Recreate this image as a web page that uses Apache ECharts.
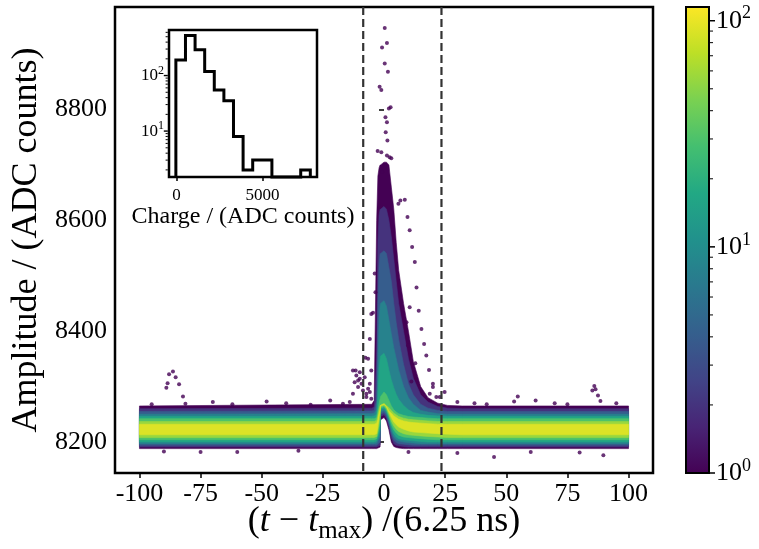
<!DOCTYPE html>
<html><head><meta charset="utf-8">
<script src="https://cdn.jsdelivr.net/npm/echarts@6/dist/echarts.min.js"></script>
<style>html,body{margin:0;padding:0;background:#fff}#c{width:759px;height:549px}</style>
</head><body><div id="c"></div>
<script>
// ================= DATA =================
const xTicks = [-100, -75, -50, -25, 0, 25, 50, 75, 100];
const yTicks = [8200, 8400, 8600, 8800];
const windowLines = [-8.5, 23.5];

// density envelopes (ADC counts) at sample positions, one pair per count level
const bandX = [-100, -5, -4, -3, -2.5, -2, -1.6, -1.4, 0, 1, 2, 3, 4, 5, 6, 8, 10, 12, 15, 18, 22, 26, 32, 100];
const levelCounts = [1, 2, 4, 8, 16, 30, 55, 90];
const bandHi1 = [8265, 8268, 8275, 8600, 8680, 8695, 8700, 8700, 8705, 8705, 8700, 8660, 8620, 8560, 8510, 8450, 8400, 8345, 8300, 8280, 8270, 8266, 8265, 8265];
const bandLo1 = [8188, 8188, 8188, 8188, 8189, 8190, 8191, 8240, 8244, 8238, 8222, 8200, 8192, 8190, 8189, 8188, 8188, 8188, 8188, 8188, 8188, 8188, 8188, 8188];
const bandHi2 = [8260, 8261, 8263, 8350, 8560, 8610, 8620, 8620, 8625, 8620, 8600, 8570, 8530, 8490, 8450, 8400, 8350, 8315, 8285, 8272, 8264, 8261, 8260, 8260];
const bandLo2 = [8191, 8191, 8191, 8191, 8192, 8193, 8194, 8246, 8249, 8243, 8228, 8207, 8197, 8194, 8193, 8192, 8191, 8191, 8191, 8191, 8191, 8191, 8191, 8191];
const bandHi3 = [8255, 8256, 8257, 8275, 8450, 8520, 8540, 8540, 8545, 8540, 8515, 8490, 8450, 8415, 8385, 8340, 8305, 8285, 8268, 8261, 8257, 8255, 8255, 8255];
const bandLo3 = [8194, 8194, 8194, 8194, 8196, 8198, 8200, 8250, 8253, 8247, 8233, 8214, 8203, 8199, 8197, 8196, 8195, 8194, 8194, 8194, 8194, 8194, 8194, 8194];
const bandHi4 = [8250, 8251, 8252, 8258, 8330, 8420, 8445, 8450, 8455, 8445, 8420, 8395, 8370, 8350, 8330, 8300, 8280, 8268, 8257, 8254, 8251, 8250, 8250, 8250];
const bandLo4 = [8197, 8197, 8197, 8198, 8202, 8206, 8210, 8254, 8257, 8251, 8238, 8220, 8209, 8204, 8202, 8200, 8199, 8198, 8197, 8197, 8197, 8197, 8197, 8197];
const bandHi5 = [8246, 8246, 8247, 8250, 8280, 8330, 8350, 8355, 8360, 8350, 8330, 8312, 8298, 8286, 8277, 8266, 8258, 8253, 8250, 8248, 8247, 8246, 8246, 8246];
const bandLo5 = [8200, 8200, 8200, 8202, 8208, 8215, 8222, 8258, 8261, 8255, 8242, 8226, 8215, 8209, 8206, 8204, 8203, 8202, 8201, 8200, 8200, 8200, 8200, 8200];
const bandHi6 = [8242, 8242, 8242, 8244, 8256, 8270, 8278, 8282, 8290, 8285, 8275, 8265, 8258, 8254, 8251, 8248, 8246, 8245, 8244, 8243, 8242, 8242, 8242, 8242];
const bandLo6 = [8204, 8204, 8204, 8206, 8214, 8226, 8236, 8261, 8264, 8258, 8246, 8232, 8222, 8216, 8212, 8209, 8208, 8207, 8206, 8205, 8204, 8204, 8204, 8204];
const bandHi7 = [8237, 8237, 8237, 8239, 8248, 8260, 8266, 8266, 8270, 8266, 8262, 8257, 8252, 8249, 8246, 8243, 8241, 8240, 8239, 8238, 8237, 8237, 8237, 8237];
const bandLo7 = [8208, 8208, 8208, 8210, 8220, 8236, 8248, 8264, 8266, 8261, 8250, 8238, 8229, 8223, 8219, 8215, 8213, 8212, 8211, 8210, 8209, 8208, 8208, 8208];
const bandHi8 = [8232, 8232, 8232, 8234, 8240, 8252, 8258, 8266, 8268, 8264, 8256, 8252, 8247, 8244, 8241, 8238, 8236, 8235, 8234, 8233, 8232, 8232, 8232, 8232];
const bandLo8 = [8213, 8213, 8213, 8215, 8228, 8246, 8256, 8266, 8268, 8264, 8254, 8244, 8236, 8231, 8227, 8223, 8220, 8218, 8217, 8216, 8215, 8214, 8213, 8213];

// isolated single-count samples
const outlierT = [0.3, 1.2, -0.8, 0.3, 1.6, -1.8, -1.1, 2.7, 2.0, 0.6, 1.2, 0.7, 1.4, -2.6, -1.1, 1.2, 2.3, 3.0, -0.7,
  6.7, 8.5, 5.9, 9.6, 10.5, 11.5, 12.6, 13.3, 14.2, 15.3, 16.4, 17.3, 18.4, 20, 22.8, 9.2, 10.5, 9.8, 12.8, 11.2, 20, 21.4, 18.7, 24.8,
  -3.8, -3.5, -4.5, -5.2, -5.8, -7.6, -6.5, -5.2,
  -12.7, -11.3, -9.9, -12, -9.2, -7.9, -10.6, -8.6, -6.5, -7.2, -5.2, -12.7, -14, -5.8, -16.8, -10.6, -11.6, -9.9, -7.2, -5.8,
  -89, -87.9, -86.3, -85.2, -83.8, -82.2, -81.2, -88.5,
  86, 86.5, 87.5, 88.5, 85.2,
  54.7, 53.2, 69.8, 37, -95, -70, -62, -48, -40, -30, -22, 30, 42, 62, 75, 95,
  89.7, 45, -90, -60, -35, 60, 80, 30, -75, 10];
const outlierA = [8947, 8920, 8912, 8883, 8868, 8841, 8835, 8804, 8802, 8786, 8777, 8759, 8744, 8725, 8723, 8717, 8714, 8712, 8687,
  8636, 8637, 8630, 8606, 8582, 8552, 8525, 8479, 8437, 8404, 8377, 8356, 8330, 8305, 8281, 8416, 8443, 8374, 8342, 8309, 8299, 8281, 8287, 8290,
  8504, 8470, 8433, 8431, 8386, 8352, 8350, 8329,
  8329, 8320, 8314, 8308, 8305, 8317, 8299, 8293, 8296, 8281, 8278, 8287, 8272, 8305, 8269, 8311, 8329, 8326, 8287, 8290,
  8298, 8322, 8327, 8317, 8304, 8282, 8269, 8306,
  8301, 8295, 8284, 8274, 8293,
  8282, 8273, 8270, 8270, 8268, 8272, 8268, 8273, 8270, 8267, 8275, 8272, 8268, 8275, 8268, 8270,
  8176, 8173, 8183, 8182, 8184, 8182, 8181, 8180, 8182, 8182];

// inset: charge histogram
const histEdges = [-40, 519, 1078, 1637, 2196, 2755, 3314, 3873, 4432, 4991, 5550, 6109, 6668, 7227, 7786];
const histCounts = [190, 525, 290, 118, 55, 35, 8, 2, 3, 3, 0, 0, 0, 2];
const insetXTicks = [0, 5000];
const insetMajor = [10, 100];
const insetMinor = [2, 3, 4, 5, 6, 7, 8, 9, 20, 30, 40, 50, 60, 70, 80, 90, 200, 300, 400, 500, 600];

// colorbar
const cbMin = 1, cbMax = 115;
const cbMajor = [1, 10, 100];
const cbMinor = [2, 3, 4, 5, 6, 7, 8, 9, 20, 30, 40, 50, 60, 70, 80, 90];

// ================= STYLE / BUILD =================
const FONT = "'Liberation Serif','DejaVu Serif',serif";
const VIRIDIS = ['#440154','#482475','#414487','#355f8d','#2a788e','#21918c','#22a884','#44bf70','#7ad151','#bddf26','#fde725'];
function hex2rgb(h){return [parseInt(h.substr(1,2),16),parseInt(h.substr(3,2),16),parseInt(h.substr(5,2),16)];}
function viridis(t){
  t = Math.max(0, Math.min(1, t));
  const p = t * (VIRIDIS.length - 1), i = Math.min(Math.floor(p), VIRIDIS.length - 2), f = p - i;
  const a = hex2rgb(VIRIDIS[i]), b = hex2rgb(VIRIDIS[i+1]);
  return 'rgb(' + a.map((v,k)=>Math.round(v + (b[k]-v)*f)).join(',') + ')';
}
const levelColor = c => viridis(Math.log10(c) / Math.log10(cbMax));
const bandHi = [bandHi1, bandHi2, bandHi3, bandHi4, bandHi5, bandHi6, bandHi7, bandHi8];
const bandLo = [bandLo1, bandLo2, bandLo3, bandLo4, bandLo5, bandLo6, bandLo7, bandLo8];

const MAIN = {xMin: -110, xMax: 110, yMin: 8144, yMax: 8985};
const INSET = {xMin: -440, xMax: 8175, yMin: 1.49, yMax: 661};

function supFmt(v){
  const e = Math.log10(v), r = Math.round(e);
  if (Math.abs(e - r) > 1e-6) return '';
  return '{b|10}{s|' + r + '}';
}
const plain = v => String(v);

const chart = echarts.init(document.getElementById('c'), null, {renderer: 'canvas'});
const tickStyle = {color: '#000', width: 1.5};

const option = {
  animation: false,
  backgroundColor: '#fff',
  textStyle: {fontFamily: FONT, color: '#000'},
  grid: [
    {left: 115, top: 7, width: 538, height: 466, show: true, borderColor: '#000', borderWidth: 2.5, backgroundColor: 'transparent', outerBoundsMode: 'none', containLabel: false},
    {left: 169, top: 30, width: 148, height: 147, show: true, borderColor: '#000', borderWidth: 2.5, backgroundColor: '#fff', outerBoundsMode: 'none', containLabel: false},
    {left: 686, top: 7, width: 23, height: 466, show: false, outerBoundsMode: 'none', containLabel: false}
  ],
  xAxis: [
    {gridIndex: 0, type: 'value', min: MAIN.xMin, max: MAIN.xMax,
     axisLine: {show: false}, splitLine: {show: false},
     axisTick: {show: true, customValues: xTicks, length: 5, lineStyle: tickStyle},
     axisLabel: {customValues: xTicks, formatter: plain, fontSize: 26, fontFamily: FONT, color: '#000', margin: 8},
     name: '({i|t} − {i|t}{m|max}) /(6.25 ns)', nameLocation: 'middle', nameGap: 27, nameMoveOverlap: false,
     nameTextStyle: {fontSize: 36, fontFamily: FONT, color: '#000', lineHeight: 44,
       rich: {i: {fontSize: 36, fontStyle: 'italic', fontFamily: FONT, lineHeight: 44},
              m: {fontSize: 25, fontFamily: FONT, verticalAlign: 'bottom', lineHeight: 26}}}},
    {gridIndex: 1, type: 'value', min: INSET.xMin, max: INSET.xMax,
     axisLine: {show: false}, splitLine: {show: false},
     axisTick: {show: true, customValues: insetXTicks, length: 4, lineStyle: tickStyle},
     axisLabel: {customValues: insetXTicks, formatter: plain, fontSize: 17, fontFamily: FONT, color: '#000', margin: 10},
     name: 'Charge / (ADC counts)', nameLocation: 'middle', nameGap: 23,
     nameTextStyle: {fontSize: 24, fontFamily: FONT, color: '#000'}},
    {gridIndex: 2, type: 'value', min: 0, max: 1, show: false}
  ],
  yAxis: [
    {gridIndex: 0, type: 'value', min: MAIN.yMin, max: MAIN.yMax,
     axisLine: {show: false}, splitLine: {show: false},
     axisTick: {show: true, customValues: yTicks, length: 5, lineStyle: tickStyle},
     axisLabel: {customValues: yTicks, formatter: plain, fontSize: 26, fontFamily: FONT, color: '#000', margin: 8},
     name: 'Amplitude / (ADC counts)', nameLocation: 'middle', nameGap: 66,
     nameTextStyle: {fontSize: 36, fontFamily: FONT, color: '#000'}},
    {gridIndex: 1, type: 'log', logBase: 10, min: INSET.yMin, max: INSET.yMax,
     axisLine: {show: false}, splitLine: {show: false}, axisTick: {show: false},
     axisLabel: {formatter: supFmt, margin: 5, showMinLabel: false, showMaxLabel: false,
       rich: {b: {fontSize: 17, fontFamily: FONT, color: '#000', lineHeight: 22},
              s: {fontSize: 12, fontFamily: FONT, color: '#000', verticalAlign: 'top', lineHeight: 14}}}},
    {gridIndex: 2, type: 'log', logBase: 10, min: cbMin, max: cbMax, position: 'right',
     axisLine: {show: false}, splitLine: {show: false}, axisTick: {show: false},
     axisLabel: {formatter: supFmt, margin: 7, showMaxLabel: false,
       rich: {b: {fontSize: 26, fontFamily: FONT, color: '#000', lineHeight: 32},
              s: {fontSize: 18, fontFamily: FONT, color: '#000', verticalAlign: 'top', lineHeight: 20}}}}
  ],
  series: [
    // isolated samples
    {type: 'scatter', xAxisIndex: 0, yAxisIndex: 0, silent: true, symbolSize: 4,
     itemStyle: {color: levelColor(levelCounts[0])},
     data: outlierT.map((t, i) => [t, outlierA[i]])},
    // density levels, outermost first
    {type: 'custom', xAxisIndex: 0, yAxisIndex: 0, silent: true,
     data: levelCounts.map((c, k) => [bandX[0], bandLo[k][0], k]),
     renderItem: function (params, api) {
       const k = params.dataIndex;
       const pts = [];
       for (let i = 0; i < bandX.length; i++) pts.push(api.coord([bandX[i], bandHi[k][i]]));
       for (let i = bandX.length - 1; i >= 0; i--) pts.push(api.coord([bandX[i], bandLo[k][i]]));
       return {type: 'polygon', shape: {points: pts}, style: {fill: levelColor(levelCounts[k]), stroke: levelColor(levelCounts[k]), lineWidth: 0.6}};
     }},
    // integration window
    {type: 'custom', xAxisIndex: 0, yAxisIndex: 0, silent: true, z: 5,
     data: windowLines.map(v => [v, MAIN.yMin]),
     renderItem: function (params, api) {
       const v = api.value(0);
       const a = api.coord([v, MAIN.yMax]), b = api.coord([v, MAIN.yMin]);
       return {type: 'line', shape: {x1: a[0], y1: a[1], x2: b[0], y2: b[1]},
               style: {stroke: '#333', lineWidth: 2.2, lineDash: [8, 4]}};
     }},
    // inset step histogram
    {type: 'custom', xAxisIndex: 1, yAxisIndex: 1, silent: true, z: 6,
     data: [[histEdges[0], Math.max(histCounts[0], INSET.yMin)]],
     renderItem: function (params, api) {
       const cl = c => Math.max(c, INSET.yMin);
       const pts = [api.coord([histEdges[0], INSET.yMin])];
       for (let i = 0; i < histCounts.length; i++) {
         pts.push(api.coord([histEdges[i], cl(histCounts[i])]));
         pts.push(api.coord([histEdges[i + 1], cl(histCounts[i])]));
       }
       pts.push(api.coord([histEdges[histEdges.length - 1], INSET.yMin]));
       return {type: 'polyline', shape: {points: pts}, style: {stroke: '#000', lineWidth: 3, fill: null, lineJoin: 'miter'}};
     }},
    // inset log ticks
    {type: 'custom', xAxisIndex: 1, yAxisIndex: 1, silent: true, z: 6,
     data: insetMajor.map(v => [INSET.xMin, v, 1]).concat(insetMinor.map(v => [INSET.xMin, v, 0])),
     renderItem: function (params, api) {
       const p = api.coord([INSET.xMin, api.value(1)]);
       const len = api.value(2) ? 4 : 2.2;
       return {type: 'line', shape: {x1: p[0] - 1.2, y1: p[1], x2: p[0] - 1.2 - len, y2: p[1]},
               style: {stroke: '#000', lineWidth: api.value(2) ? 1.4 : 1}};
     }},
    // colorbar body
    {type: 'custom', xAxisIndex: 2, yAxisIndex: 2, silent: true,
     data: [[0, cbMin]],
     renderItem: function (params, api) {
       const a = api.coord([0, cbMax]), b = api.coord([1, cbMin]);
       return {type: 'rect', shape: {x: a[0], y: a[1], width: b[0] - a[0], height: b[1] - a[1]},
               style: {fill: {type: 'linear', x: 0, y: 1, x2: 0, y2: 0,
                              colorStops: VIRIDIS.map((c, i) => ({offset: i / (VIRIDIS.length - 1), color: c}))},
                       stroke: '#000', lineWidth: 2}};
     }},
    // colorbar ticks
    {type: 'custom', xAxisIndex: 2, yAxisIndex: 2, silent: true, z: 6,
     data: cbMajor.map(v => [1, v, 1]).concat(cbMinor.map(v => [1, v, 0])),
     renderItem: function (params, api) {
       const p = api.coord([1, api.value(1)]);
       const len = api.value(2) ? 5 : 3;
       return {type: 'line', shape: {x1: p[0] + 1, y1: p[1], x2: p[0] + 1 + len, y2: p[1]},
               style: {stroke: '#000', lineWidth: api.value(2) ? 1.5 : 1}};
     }}
  ]
};
chart.setOption(option);
</script>
</body></html>
